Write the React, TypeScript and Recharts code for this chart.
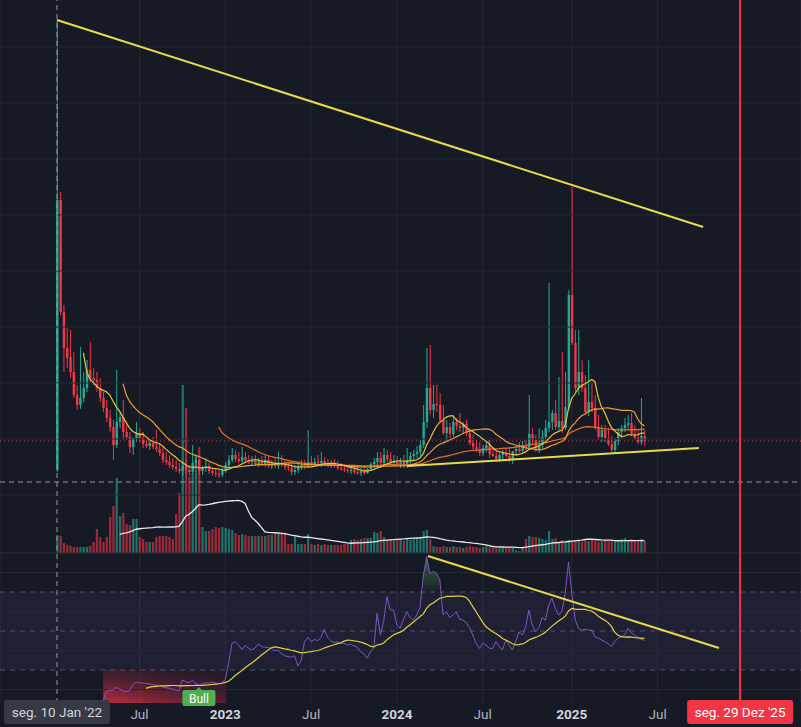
import React from "react";
import {
  ComposedChart,
  Bar,
  Line,
  Area,
  XAxis,
  YAxis,
  CartesianGrid,
  ReferenceLine,
  ReferenceArea,
  ReferenceDot,
} from "recharts";

document.body.style.margin = "0";

// weekly bars starting seg. 10 Jan '22: [open, high, low, close]
const candles: [number, number, number, number][] = [
  [25, 475, 23, 295], [295, 303, 180, 183], [183, 190, 123, 147], [147, 167, 127, 137], [138, 165, 117, 123],
  [123, 143, 97, 100], [100, 110, 85, 90], [90, 148, 86, 97], [97, 123, 93, 107], [107, 135, 103, 125],
  [125, 153, 113, 117], [117, 127, 110, 115], [115, 123, 103, 107], [107, 117, 93, 97], [97, 103, 83, 87],
  [87, 95, 73, 77], [77, 85, 63, 68], [68, 75, 35, 50], [50, 125, 47, 73], [73, 83, 67, 78],
  [78, 95, 55, 63], [63, 70, 55, 58], [58, 63, 42, 48], [48, 55, 40, 57], [57, 73, 53, 62],
  [62, 67, 53, 57], [57, 63, 47, 51], [51, 55, 47, 49], [49, 54, 45, 52], [52, 58, 46, 48],
  [48, 65, 43, 46], [46, 51, 39, 42], [42, 49, 32, 35], [35, 43, 30, 33], [33, 40, 27, 30],
  [30, 37, 25, 28], [28, 35, 23, 26], [26, 32, 21, 24], [24, 33, 19, 29], [29, 35, 21, 25],
  [25, 30, 19, 23], [23, 50, 21, 32], [32, 38, 29, 35], [35, 36, 20, 24], [24, 29, 20, 27],
  [27, 37, 23, 29], [29, 32, 21, 24], [24, 28, 19, 22], [22, 27, 18, 21], [21, 25, 17, 20],
  [20, 27, 18, 25], [25, 33, 22, 30], [30, 40, 27, 35], [35, 47, 33, 40], [40, 45, 33, 36],
  [36, 43, 32, 34], [34, 48, 32, 38], [38, 43, 32, 35], [35, 40, 31, 33], [33, 39, 30, 34],
  [34, 40, 29, 31], [31, 37, 28, 33], [33, 39, 29, 30], [30, 40, 28, 35], [35, 39, 27, 29],
  [29, 35, 26, 31], [31, 37, 27, 29], [29, 43, 26, 32], [32, 40, 28, 30], [30, 35, 25, 28],
  [28, 33, 24, 27], [27, 32, 20, 23], [23, 30, 20, 25], [25, 31, 22, 28], [28, 35, 25, 30],
  [30, 35, 26, 29], [29, 65, 27, 33], [33, 39, 29, 31], [31, 37, 28, 33], [33, 40, 29, 32],
  [32, 43, 28, 34], [34, 38, 29, 31], [31, 36, 28, 30], [30, 35, 27, 32], [32, 36, 27, 29],
  [29, 34, 25, 27], [27, 32, 24, 26], [26, 31, 23, 25], [25, 30, 22, 24], [24, 29, 21, 25],
  [25, 30, 21, 23], [23, 29, 20, 22], [22, 27, 19, 24], [24, 28, 20, 22], [22, 27, 21, 26],
  [26, 33, 24, 31], [31, 37, 27, 33], [33, 43, 27, 37], [37, 43, 29, 32], [32, 47, 30, 40],
  [40, 45, 33, 36], [36, 43, 29, 32], [32, 40, 28, 34], [34, 39, 29, 31], [31, 37, 27, 33],
  [33, 40, 27, 29], [29, 47, 27, 35], [35, 43, 31, 39], [39, 45, 35, 41], [41, 49, 37, 43],
  [43, 55, 39, 50], [50, 90, 47, 73], [73, 147, 67, 107], [107, 150, 81, 85], [85, 110, 77, 91],
  [91, 110, 83, 90], [90, 102, 73, 75], [75, 90, 60, 62], [62, 75, 55, 68], [68, 72, 57, 61],
  [61, 80, 58, 73], [73, 77, 65, 69], [69, 82, 63, 67], [67, 73, 61, 71], [71, 75, 59, 62],
  [62, 67, 50, 52], [52, 60, 45, 48], [48, 55, 43, 46], [46, 53, 39, 42], [42, 50, 39, 47],
  [47, 53, 43, 50], [50, 55, 37, 41], [41, 48, 38, 39], [39, 45, 33, 36], [36, 43, 33, 40],
  [40, 45, 35, 42], [42, 47, 37, 39], [39, 47, 33, 35], [35, 44, 31, 44], [44, 49, 39, 46],
  [46, 53, 42, 44], [44, 54, 41, 50], [50, 55, 43, 48], [48, 100, 45, 61], [61, 67, 50, 55],
  [55, 60, 43, 45], [45, 67, 42, 50], [50, 65, 47, 58], [58, 75, 55, 67], [67, 212, 63, 73],
  [73, 85, 65, 82], [82, 95, 65, 68], [68, 118, 64, 74], [74, 143, 62, 67], [67, 123, 65, 88],
  [88, 205, 85, 200], [200, 308, 150, 152], [152, 165, 103, 107], [107, 165, 100, 123], [123, 135, 103, 107],
  [107, 120, 80, 83], [83, 135, 79, 93], [93, 113, 83, 87], [87, 100, 65, 68], [68, 80, 55, 58],
  [58, 70, 53, 65], [65, 70, 53, 57], [57, 67, 49, 51], [51, 59, 43, 45], [45, 57, 41, 54],
  [54, 67, 50, 63], [63, 70, 57, 67], [67, 77, 63, 70], [70, 80, 65, 72], [72, 82, 59, 61],
  [61, 70, 55, 57], [57, 65, 51, 53], [53, 97, 50, 59], [59, 65, 49, 54],
];

const volumes = [
  18, 17, 10, 8, 7, 6, 6, 6, 6, 6,
  7, 11, 24, 16, 11, 16, 36, 47, 75, 37,
  40, 29, 28, 34, 34, 16, 14, 11, 11, 11,
  16, 17, 17, 17, 16, 14, 39, 60, 168, 145,
  76, 80, 98, 106, 26, 22, 22, 24, 26, 25,
  26, 25, 24, 23, 20, 18, 19, 18, 17, 17,
  17, 17, 17, 17, 18, 18, 19, 19, 20, 20,
  9, 9, 17, 9, 9, 9, 19, 9, 8, 9,
  8, 9, 8, 8, 8, 8, 8, 9, 9, 13,
  14, 13, 14, 15, 15, 15, 21, 20, 22, 16,
  13, 14, 12, 13, 14, 12, 15, 13, 14, 15,
  16, 22, 23, 14, 7, 6, 6, 7, 6, 6,
  7, 6, 6, 5, 6, 7, 6, 6, 5, 6,
  7, 6, 5, 6, 6, 5, 5, 6, 5, 3,
  2, 6, 14, 17, 16, 16, 15, 14, 13, 22,
  14, 15, 10, 13, 11, 13, 12, 13, 12, 11,
  13, 12, 13, 12, 11, 12, 13, 12, 12, 13,
  12, 14, 15, 13, 12, 12, 11, 14, 12,
];

// RSI(14) on weekly closes
const rsiValues: (number | null)[] = [
  null, null, null, null, null, null, null, null, null, null, null, null, null, null,
  14.6, 18.9, 19.7, 19.7, 21.1, 20.1, 19.4, 18.9, 19.7, 22.6,
  23.7, 23.5, 23.2, 23.2, 22.9, 22.6, 22.3, 22.0, 21.4, 20.9,
  20.6, 20.1, 19.7, 19.4, 24.9, 24.0, 23.5, 24.6, 23.2, 22.3,
  22.9, 23.5, 23.2, 23.9, 23.2, 22.9, 23.5, 25.2, 33.4, 43.7,
  44.5, 42.8, 40.6, 42.5, 41.2, 40.3, 41.2, 43.4, 42.0, 41.7,
  41.5, 41.2, 39.8, 40.3, 38.3, 37.3, 36.9, 36.6, 37.3, 32.1,
  35.1, 44.5, 46.8, 44.5, 45.7, 45.0, 46.8, 50.9, 46.8, 45.0,
  44.0, 44.5, 43.7, 43.7, 42.8, 43.4, 42.3, 41.7, 39.4, 38.3,
  36.1, 39.4, 41.2, 59.1, 47.9, 55.0, 67.6, 60.8, 60.8, 53.0,
  51.4, 56.0, 59.9, 57.0, 55.6, 58.2, 62.0, 78.0, 88.1, 79.6,
  80.5, 79.6, 76.2, 58.2, 59.9, 56.9, 58.2, 59.9, 56.0, 55.6,
  54.3, 51.7, 47.9, 43.7, 41.1, 43.7, 42.8, 41.1, 41.1, 44.5,
  42.0, 40.3, 45.4, 42.8, 40.3, 44.5, 49.6, 47.9, 52.0, 60.8,
  53.1, 49.6, 51.7, 56.9, 55.6, 63.3, 66.8, 61.6, 58.2, 60.0,
  69.3, 85.5, 69.3, 56.0, 51.4, 50.5, 50.8, 50.5, 50.5, 47.0,
  46.3, 45.4, 44.5, 43.5, 42.0, 44.5, 46.3, 47.0, 47.9, 51.4,
  49.1, 47.9, 46.8, 45.7, 45.2,
];

// time axis labels, as week offsets from the first bar
const tickWeeks = [25, 51, 77, 103, 129, 156, 182];
const tickLabels = ["Jul", "2023", "Jul", "2024", "Jul", "2025", "Jul"];
const firstWeekLabel = "seg. 10 Jan '22";
const markerWeek = 207;
const markerLabel = "seg. 29 Dez '25";

// hand-drawn trend lines as [week, value]
const priceTopLine: [number, number][] = [[0, 475], [195.8, 268]];
const priceBaseLine: [number, number][] = [[106.1, 29], [194.5, 47]];
const rsiTrendLine: [number, number][] = [[112.4, 88.5], [200.6, 41.3]];
const bullSignalWeek = 43;
const crosshairPrice = 13;

const priceGrid = [0, 56, 112, 168, 224, 280, 336, 392, 448];

const BG = "#161a25";
const GRID = "#242835";
const UP = "#22ab94";
const DOWN = "#f23645";
const TREND = "#ecd94b";
const FONT = "Roboto, 'Noto Sans', sans-serif";

// each pane gets its own slice of the 703px plot height
const PRICE_DOMAIN: [number, number] = [-208, 495];
const VOL_DOMAIN: [number, number] = [-150, 553];
const RSI_DOMAIN: [number, number] = [13.08, 373.6];
const WEEK_DOMAIN: [number, number] = [-17.27, 225.45];

function sma(src: (number | null)[], len: number) {
  return src.map((_, i) => {
    if (i < len - 1) return null;
    const win = src.slice(i - len + 1, i + 1);
    if (win.some((v) => v == null)) return null;
    return win.reduce((a: number, b) => a + (b as number), 0) / len;
  });
}

const closes = candles.map((c) => c[3]);
const ma9 = sma(closes, 9);
const ma21 = sma(closes, 21);
const ma50 = sma(closes, 50);
const volMa = sma(volumes, 20);
const rsiMa = sma(rsiValues, 14);

const rows = candles.map(([o, h, l, c], i) => ({
  week: i,
  o,
  h,
  l,
  c,
  vol: volumes[i],
  rsi: rsiValues[i],
  ma9: ma9[i],
  ma21: ma21[i],
  ma50: ma50[i],
  volMa: volMa[i],
  rsiMa: rsiMa[i],
}));

const lastClose = closes[closes.length - 1];

function Candle(props: any) {
  const { x, y, width, height, payload } = props;
  if (x == null || payload == null) return null;
  const top = Math.min(y, y + height);
  const bottom = Math.max(y, y + height);
  const span = payload.h - payload.l || 1;
  const toPx = (v: number) => top + ((payload.h - v) / span) * (bottom - top);
  const cx = x + width / 2;
  const color = payload.c >= payload.o ? UP : DOWN;
  const bTop = toPx(Math.max(payload.o, payload.c));
  const bBot = toPx(Math.min(payload.o, payload.c));
  return (
    <g>
      <line x1={cx} x2={cx} y1={top} y2={bottom} stroke={color} strokeWidth={1} />
      <rect x={cx - 1.2} y={bTop} width={2.4} height={Math.max(1, bBot - bTop)} fill={color} />
    </g>
  );
}

function VolumeBar(props: any) {
  const { x, y, width, height, payload } = props;
  if (x == null || payload == null) return null;
  const top = Math.min(y, y + height);
  const h = Math.abs(height);
  const color = payload.c >= payload.o ? UP : DOWN;
  return <rect x={x + width / 2 - 1.1} y={top} width={2.2} height={h} fill={color} fillOpacity={0.62} />;
}

function WeekTick({ x, y, payload }: any) {
  const label = tickLabels[tickWeeks.indexOf(payload.value)] ?? "";
  const isYear = /^\d{4}$/.test(label);
  return (
    <text
      x={x}
      y={y}
      dy={8}
      textAnchor="middle"
      fill={isYear ? "#d1d4dc" : "#b2b5be"}
      fontWeight={isYear ? 700 : 400}
      fontSize={13.5}
      fontFamily={FONT}
    >
      {label}
    </text>
  );
}

function DateBadge({ viewBox, text, fill, color }: any) {
  if (!viewBox) return null;
  const cx = viewBox.x;
  const top = viewBox.y + viewBox.height - 3;
  const w = 106;
  return (
    <g>
      <rect x={cx - w / 2} y={top} width={w} height={24} rx={3} fill={fill} />
      <text x={cx} y={top + 16.5} textAnchor="middle" fill={color} fontSize={13.5} fontFamily={FONT}>
        {text}
      </text>
    </g>
  );
}

function BullTag({ cx, cy }: any) {
  if (cx == null) return null;
  return (
    <g>
      <path d={`M${cx - 4},${cy + 6} L${cx},${cy + 2} L${cx + 4},${cy + 6} Z`} fill="#4caf50" />
      <rect x={cx - 16.5} y={cy + 5} width={33} height={16} rx={2} fill="#4caf50" />
      <text x={cx} y={cy + 17.5} textAnchor="middle" fill="#ffffff" fontSize={12} fontFamily={FONT}>
        Bull
      </text>
    </g>
  );
}

export default function App() {
  return (
    <div style={{ width: 801, height: 727, background: BG, overflow: "hidden" }}>
      <ComposedChart width={801} height={727} data={rows} margin={{ top: 0, right: 0, bottom: 0, left: 0 }}>
        <defs>
          <linearGradient id="osFill" x1="0" y1="1" x2="0.7" y2="0">
            <stop offset="0%" stopColor="#e53246" stopOpacity={0.8} />
            <stop offset="55%" stopColor="#b02a40" stopOpacity={0.35} />
            <stop offset="100%" stopColor="#7a2538" stopOpacity={0.15} />
          </linearGradient>
          <linearGradient id="obFill" x1="0" y1="0" x2="0" y2="1">
            <stop offset="0%" stopColor="#4caf50" stopOpacity={0.55} />
            <stop offset="100%" stopColor="#4caf50" stopOpacity={0.05} />
          </linearGradient>
        </defs>

        <XAxis
          dataKey="week"
          type="number"
          domain={WEEK_DOMAIN}
          allowDataOverflow
          ticks={tickWeeks}
          interval={0}
          tick={<WeekTick />}
          tickLine={false}
          axisLine={false}
          height={24}
        />
        <XAxis xAxisId="vol" dataKey="week" type="number" domain={WEEK_DOMAIN} allowDataOverflow hide />
        <YAxis yAxisId="price" domain={PRICE_DOMAIN} allowDataOverflow hide />
        <YAxis yAxisId="vol" domain={VOL_DOMAIN} allowDataOverflow hide />
        <YAxis yAxisId="rsi" domain={RSI_DOMAIN} allowDataOverflow hide />

        <CartesianGrid horizontal={false} stroke={GRID} />
        {priceGrid.map((v) => (
          <ReferenceLine key={`pg${v}`} yAxisId="price" y={v} stroke={GRID} />
        ))}
        <ReferenceLine yAxisId="rsi" y={90} stroke="#2a2e39" />

        {/* RSI pane */}
        <ReferenceArea yAxisId="rsi" y1={30} y2={70} fill="#7e57c2" fillOpacity={0.1} stroke="none" />
        {[20, 40, 60, 80].map((v) => (
          <ReferenceLine key={`rg${v}`} yAxisId="rsi" y={v} stroke={GRID} />
        ))}
        {[30, 50, 70].map((v) => (
          <ReferenceLine key={`rl${v}`} yAxisId="rsi" y={v} stroke="#787b86" strokeOpacity={0.55} strokeDasharray="5 5" />
        ))}
        <ReferenceArea
          yAxisId="rsi"
          x1={14}
          x2={51}
          y1={RSI_DOMAIN[0]}
          y2={30}
          fill="url(#osFill)"
          fillOpacity={1}
          stroke="none"
          ifOverflow="hidden"
        />
        <Area
          yAxisId="rsi"
          dataKey={(d: any) => (d.rsi != null && d.rsi >= 70 ? [70, d.rsi] : null)}
          stroke="none"
          fill="url(#obFill)"
          fillOpacity={1}
          isAnimationActive={false}
        />
        <Line yAxisId="rsi" dataKey="rsi" stroke="#7e57c2" strokeWidth={1} dot={false} isAnimationActive={false} />
        <Line yAxisId="rsi" dataKey="rsiMa" stroke="#e6cf3c" strokeWidth={1.2} dot={false} isAnimationActive={false} />

        {/* volume overlay */}
        <Bar
          xAxisId="vol"
          yAxisId="vol"
          dataKey="vol"
          barSize={2}
          shape={(p: any) => <VolumeBar {...p} />}
          isAnimationActive={false}
        />
        <Line yAxisId="vol" dataKey="volMa" stroke="#e8e8e8" strokeWidth={1.3} dot={false} isAnimationActive={false} />

        {/* price */}
        <Bar
          yAxisId="price"
          dataKey={(d: any) => [d.l, d.h]}
          barSize={2}
          shape={(p: any) => <Candle {...p} />}
          isAnimationActive={false}
        />
        <Line yAxisId="price" dataKey="ma50" stroke="#e8702a" strokeWidth={1.2} dot={false} isAnimationActive={false} />
        <Line yAxisId="price" dataKey="ma21" stroke="#ef9d2e" strokeWidth={1.2} dot={false} isAnimationActive={false} />
        <Line yAxisId="price" dataKey="ma9" stroke="#e9c53a" strokeWidth={1.2} dot={false} isAnimationActive={false} />

        <ReferenceLine yAxisId="price" y={lastClose} stroke={DOWN} strokeDasharray="1 3" strokeOpacity={0.9} />

        <ReferenceLine
          yAxisId="price"
          segment={priceTopLine.map(([x, y]) => ({ x, y }))}
          stroke={TREND}
          strokeWidth={2}
        />
        <ReferenceLine
          yAxisId="price"
          segment={priceBaseLine.map(([x, y]) => ({ x, y }))}
          stroke={TREND}
          strokeWidth={2}
        />
        <ReferenceLine
          yAxisId="rsi"
          segment={rsiTrendLine.map(([x, y]) => ({ x, y }))}
          stroke={TREND}
          strokeWidth={2}
        />

        <ReferenceDot
          yAxisId="rsi"
          x={bullSignalWeek}
          y={rsiValues[bullSignalWeek] as number}
          r={0}
          shape={(p: any) => <BullTag cx={p.cx} cy={p.cy} />}
        />

        {/* crosshair and date marker */}
        <ReferenceLine yAxisId="price" y={crosshairPrice} stroke="#9598a1" strokeDasharray="5 4" />
        <ReferenceLine
          yAxisId="price"
          x={0}
          stroke="#9598a1"
          strokeDasharray="5 4"
          label={<DateBadge text={firstWeekLabel} fill="#363a45" color="#d1d4dc" />}
        />
        <ReferenceLine
          yAxisId="price"
          x={markerWeek}
          stroke={DOWN}
          strokeWidth={2}
          label={<DateBadge text={markerLabel} fill={DOWN} color="#ffffff" />}
        />
      </ComposedChart>
    </div>
  );
}
